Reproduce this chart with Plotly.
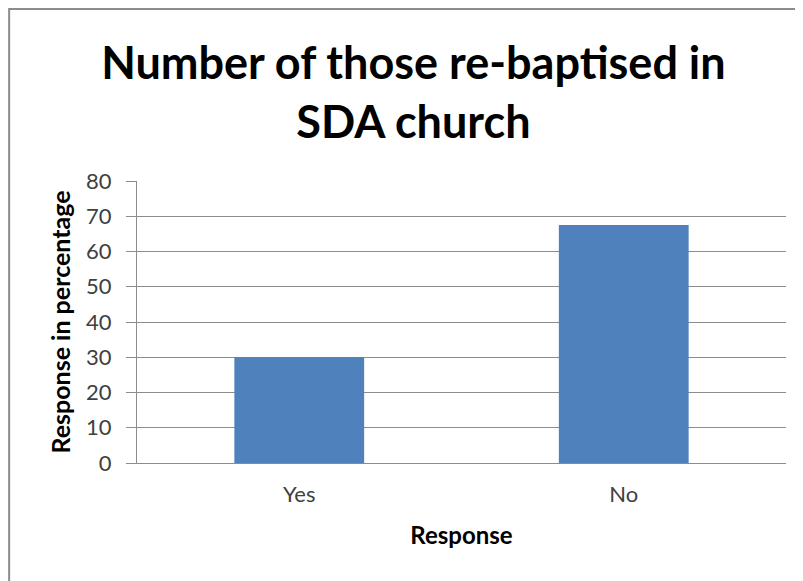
import plotly.graph_objects as go

categories = ["Yes", "No"]
values = [30, 67.5]
y_ticks = [0, 10, 20, 30, 40, 50, 60, 70, 80]

fig = go.Figure()
fig.add_trace(go.Bar(x=categories, y=values, marker=dict(color="#4F81BD", line=dict(width=0)), width=0.4))

fig.update_layout(
    width=795, height=573,
    margin=dict(l=129, r=17, t=173, b=118),
    paper_bgcolor="white", plot_bgcolor="white",
    font=dict(family="Lato", color="#404040"),
    title=dict(text="<b>Number of those re-baptised in<br>SDA church</b>",
               x=0.51, xanchor="center", y=0.876, yanchor="top",
               font=dict(family="Lato", size=45, color="black")),
    showlegend=False,
    bargap=0.6,
)
fig.update_yaxes(range=[0, 80], tickvals=y_ticks, showgrid=True, gridcolor="#8C8C8C", gridwidth=1,
                 showline=True, linecolor="#8C8C8C", ticks="outside", ticklen=10, tickcolor="#8C8C8C",
                 ticklabelstandoff=10,
                 tickfont=dict(size=22, color="#404040"), zeroline=False,
                 title=dict(text="<b>Response in percentage</b>", font=dict(size=25, color="black"), standoff=8))
fig.update_xaxes(showline=True, linecolor="#8C8C8C", ticks="", ticklabelstandoff=12,
                 tickfont=dict(size=22, color="#404040"),
                 title=dict(text="<b>Response</b>", font=dict(size=24, color="black"), standoff=20))
fig.add_shape(type="rect", xref="paper", yref="paper", x0=-0.197, y0=-1, x1=1.2, y1=1.61,
              line=dict(color="#8C8C8C", width=2), fillcolor="rgba(0,0,0,0)", layer="below")

fig.write_html("out.html")
